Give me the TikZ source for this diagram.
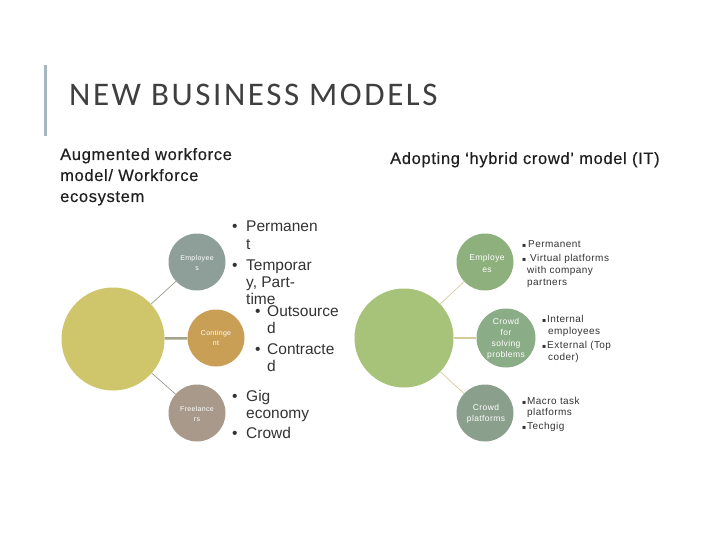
\documentclass[tikz,border=0pt]{standalone}
\usepackage{fontspec}
\setmainfont{Liberation Sans}
\newfontfamily\titlefont[LetterSpace=7.8]{Carlito}
\newfontfamily\headfont[LetterSpace=4,FakeBold=0.4]{Liberation Sans}
\newfontfamily\smallfont[LetterSpace=4.5]{Liberation Sans}
\newfontfamily\symfont{DejaVu Sans}
\definecolor{bigL}{HTML}{CFC56B}
\definecolor{empL}{HTML}{8E9E98}
\definecolor{conL}{HTML}{C99E55}
\definecolor{freL}{HTML}{A8998A}
\definecolor{bigR}{HTML}{A7C279}
\definecolor{empR}{HTML}{8DB07C}
\definecolor{cfsR}{HTML}{8AAC86}
\definecolor{cplR}{HTML}{8A9F8C}
\definecolor{barC}{HTML}{A5B8C2}
\definecolor{titC}{HTML}{3F3F3F}
\definecolor{txtC}{HTML}{333333}
\definecolor{lineL}{HTML}{9A9A90}
\definecolor{lineR}{HTML}{D5CB9A}
\tikzset{
  bubble/.style={circle, inner sep=0pt, draw=none},
  lbl/.style={text=white, align=center, inner sep=0pt},
  big/.style={font=\fontsize{15.5}{17}\selectfont, text=txtC, anchor=base west, inner sep=0pt},
  head/.style={font=\headfont\fontsize{16.5}{21}\selectfont, text=black!88, anchor=base west, inner sep=0pt},
  small/.style={font=\smallfont\fontsize{10}{12}\selectfont, text=txtC, anchor=base west, inner sep=0pt},
  sq/.style={font=\symfont\fontsize{6}{12}\selectfont, text=txtC, anchor=base west, inner sep=0pt},
  thin/.style={line width=0.7pt},
  thick/.style={line width=2.5pt}
}
\begin{document}
\begin{tikzpicture}[x=1pt,y=-1pt]
\useasboundingbox (0,0) rectangle (720,540);
% title
\draw[barC, line width=3pt] (45,65) -- (45,136);
\node[anchor=west, inner sep=0pt, text=titC, font=\titlefont\fontsize{33}{36}\selectfont] (title) at (69,95) {NEW BUSINESS MODELS};
% headers
\node[head] (h1) at (60,160) {Augmented workforce};
\node[head] (h2) at (60,181) {model/ Workforce};
\node[head] (h3) at (60,202) {ecosystem};
\node[head] (h4) at (390,164) {Adopting ‘hybrid crowd’ model (IT)};
% left bubbles
\node[bubble, fill=bigL, minimum size=103pt] (BL) at (113,339) {};
\node[bubble, fill=empL, minimum size=57pt] (EL) at (197,262) {};
\node[bubble, fill=conL, minimum size=57pt] (CL) at (216,338) {};
\node[bubble, fill=freL, minimum size=57pt] (FL) at (197,413) {};
\draw[lineL, thin] (BL) -- (EL);
\draw[lineL!80!bigL, thick] (BL) -- (CL);
\draw[lineL, thin] (BL) -- (FL);
\node[lbl, font=\smallfont\fontsize{7}{10}\selectfont] (ELt) at (197,263) {Employee\\s};
\node[lbl, font=\smallfont\fontsize{7}{10}\selectfont] (CLt) at (216,338) {Continge\\nt};
\node[lbl, font=\smallfont\fontsize{7}{10}\selectfont] (FLt) at (197,414) {Freelance\\rs};
% left texts
\node[big] (a1) at (232,232) {•};
\node[big] (a2) at (246,232) {Permanen};
\node[big] (a3) at (246,249) {t};
\node[big] (a4) at (232,270) {•};
\node[big] (a5) at (246,270) {Temporar};
\node[big] (a6) at (246,287) {y, Part-};
\node[big] (a7) at (246,304) {time};
\node[big] (b1) at (255,316) {•};
\node[big] (b2) at (267,316) {Outsource};
\node[big] (b3) at (267,333) {d};
\node[big] (b4) at (255,354) {•};
\node[big] (b5) at (267,354) {Contracte};
\node[big] (b6) at (267,371) {d};
\node[big] (c1) at (232,401) {•};
\node[big] (c2) at (246,401) {Gig};
\node[big] (c3) at (246,418) {economy};
\node[big] (c4) at (232,438) {•};
\node[big] (c5) at (246,438) {Crowd};
% right bubbles
\node[bubble, fill=bigR, minimum size=99pt] (BR) at (404,338) {};
\node[bubble, fill=empR, minimum size=57pt] (ER) at (485,262) {};
\node[bubble, fill=cfsR, minimum size=59pt] (CR) at (506,338) {};
\node[bubble, fill=cplR, minimum size=57pt] (PR) at (485,413) {};
\draw[lineR, thin] (BR) -- (ER);
\draw[lineR, thick] (BR) -- (CR);
\draw[lineR, thin] (BR) -- (PR);
\node[lbl, font=\smallfont\fontsize{8.5}{12}\selectfont] (ERt) at (487,263) {Employe\\es};
\node[lbl, font=\smallfont\fontsize{8.5}{10.8}\selectfont] (CRt) at (506,339) {Crowd\\for\\solving\\problems};
\node[lbl, font=\smallfont\fontsize{8.5}{11}\selectfont] (PRt) at (486,414) {Crowd\\platforms};
% right texts
\node[sq] (d1) at (522,247.5) {▪};
\node[small] (d2) at (528,247.5) {Permanent};
\node[sq] (d3) at (522,261.5) {▪};
\node[small] (d4) at (530,261.5) {Virtual platforms};
\node[small] (d5) at (527,273.5) {with company};
\node[small] (d6) at (527,285.5) {partners};
\node[sq] (e1) at (542,322.5) {▪};
\node[small] (e2) at (547,322.5) {Internal};
\node[small] (e3) at (548,334.5) {employees};
\node[sq] (e4) at (542,348.5) {▪};
\node[small] (e5) at (547,348.5) {External (Top};
\node[small] (e6) at (548,360.5) {coder)};
\node[sq] (f1) at (522,404.5) {▪};
\node[small] (f2) at (527,404.5) {Macro task};
\node[small] (f3) at (527,415.5) {platforms};
\node[sq] (f4) at (522,429.5) {▪};
\node[small] (f5) at (527,429.5) {Techgig};
\end{tikzpicture}
\end{document}
